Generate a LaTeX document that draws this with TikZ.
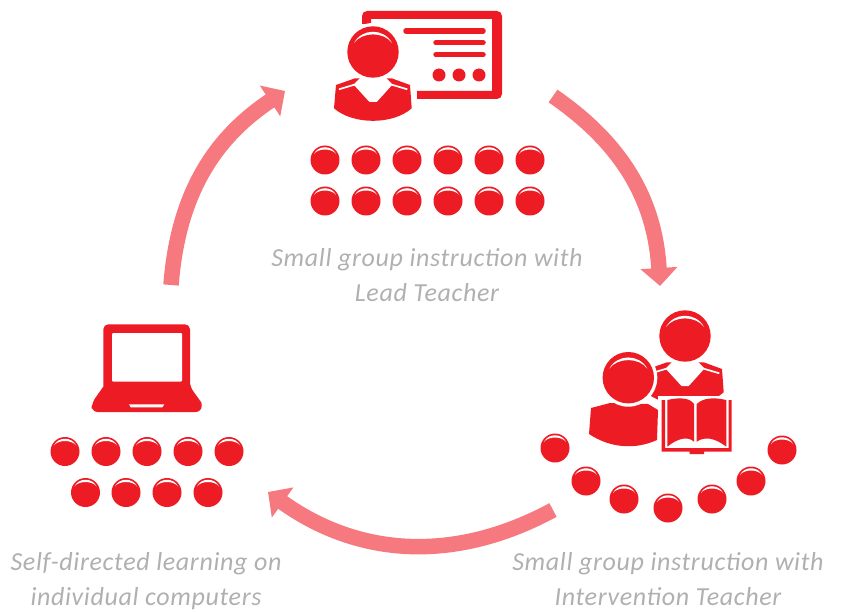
\documentclass[tikz,border=0pt]{standalone}
\usepackage{fontspec}
\setmainfont[LetterSpace=2.5]{Carlito}
\usetikzlibrary{arrows.meta}
\definecolor{iconred}{HTML}{ED1C24}
\definecolor{cyclepink}{HTML}{F6797F}
\definecolor{captiongray}{HTML}{B0B0B0}
\tikzset{
	cyclearrow/.style={draw=cyclepink, line width=15.5pt, -{Triangle[width=36pt,length=18pt,fill=cyclepink]}},
	caption/.style={text=captiongray, align=center, font=\fontsize{26}{35}\selectfont\itshape},
	pupil/.pic={
		\fill[iconred] (0,0) circle (14.5);
		\fill[white] (-11,-6) .. controls (-7,-15) and (7,-15) .. (11,-6) .. controls (7,-12) and (-7,-12) .. cycle;
	},
	torso/.pic={
		\fill[iconred] (-39,56.3) -- (-37,33) -- (-18,26.3) -- (18.7,26.3) -- (37,33) -- (38.7,56.3) .. controls (20,73) and (-20,73) .. cycle;
		\draw[white, line width=1.7pt] (-34,37.3) -- (-18.7,32.7);
		\draw[white, line width=1.7pt] (18.7,32.7) -- (34.3,37.3);
		\fill[white] (-12,25) -- (-19.5,32.5) -- (-3.5,50) -- (3.7,50) -- (19.5,32.5) -- (12,25) -- cycle;
	},
	head/.pic={
		\fill[white] (0,0) circle (29);
		\fill[iconred] (0,0) circle (25.7);
		\fill[white] (-19,-9) .. controls (-11,-24) and (11,-24) .. (19,-9) .. controls (11,-20.5) and (-11,-20.5) .. cycle;
	}
}
\begin{document}
\begin{tikzpicture}[x=1pt, y=-1pt]
	\useasboundingbox (0, 0) rectangle (842, 612);

	% cycle
	\coordinate (lead start) at (553, 96);
	\coordinate (lead end) at (660, 286);
	\coordinate (intervention start) at (553, 510);
	\coordinate (intervention end) at (268, 492);
	\coordinate (self start) at (171, 285);
	\coordinate (self end) at (285, 91);
	\draw[cyclearrow] (lead start) to[bend left=26] (lead end);
	\draw[cyclearrow] (intervention start) to[bend left=32] (intervention end);
	\draw[cyclearrow] (self start) to[bend left=26] (self end);

	% lead teacher
	\fill[iconred, even odd rule] (362, 24) [rounded corners=5] -- (362, 11) -- (502, 11) -- (502, 99) [sharp corners] -- (417, 99) -- (417, 91) -- (492, 91) -- (492, 19) -- (371, 19) -- (371, 24) -- cycle;
	\draw[iconred, line width=5.5pt, line cap=round] (406, 31) -- (483, 31);
	\draw[iconred, line width=5.5pt, line cap=round] (436, 42.7) -- (483, 42.7);
	\draw[iconred, line width=5.5pt, line cap=round] (436, 54.7) -- (483, 54.7);
	\fill[iconred] (439, 75) circle (6.5);
	\fill[iconred] (459, 75) circle (6.5);
	\fill[iconred] (479, 75) circle (6.5);
	\pic at (373, 52) {torso};
	\pic at (373, 52) {head};
	\pic at (325, 160) {pupil};
	\pic at (366, 160) {pupil};
	\pic at (407, 160) {pupil};
	\pic at (448, 160) {pupil};
	\pic at (489, 160) {pupil};
	\pic at (530, 160) {pupil};
	\pic at (325, 201) {pupil};
	\pic at (366, 201) {pupil};
	\pic at (407, 201) {pupil};
	\pic at (448, 201) {pupil};
	\pic at (489, 201) {pupil};
	\pic at (530, 201) {pupil};
	\node[caption] (lead caption) at (427, 275.5) {Small group instruction with\\Lead Teacher};

	% intervention teacher
	\pic at (685, 336) {torso};
	\pic at (685, 336) {head};
	\fill[iconred] (591, 408) -- (610, 403) -- (648, 404) -- (658, 410) -- (657, 440) .. controls (635, 450) and (610, 448) .. (589, 434) -- cycle;
	\pic at (628.3, 377.7) {head};
	\fill[white] (658, 396) rectangle (736, 456);
	\fill[iconred] (661.7, 400) -- (665, 400) -- (665, 448) -- (728.5, 448) -- (728.5, 400) -- (731.7, 400) -- (731.7, 451.7) -- (704, 451.7) -- (704, 454) -- (689.5, 454) -- (689.5, 451.7) -- (661.7, 451.7) -- cycle;
	\fill[iconred] (667.3, 400) .. controls (680, 397) and (690, 398) .. (694, 404) -- (694, 441.7) .. controls (688, 436) and (678, 438) .. (667.3, 446.7) -- cycle;
	\fill[iconred] (726.3, 400) .. controls (713, 397) and (703, 398) .. (696.7, 404) -- (696.7, 441.7) .. controls (705, 436) and (715, 438) .. (726.3, 446.7) -- cycle;
	\pic at (555, 448) {pupil};
	\pic at (586, 481) {pupil};
	\pic at (624, 499) {pupil};
	\pic at (668, 508) {pupil};
	\pic at (712, 499) {pupil};
	\pic at (751, 481) {pupil};
	\pic at (782, 450) {pupil};
	\node[caption] (intervention caption) at (668, 579.5) {Small group instruction with\\Intervention Teacher};

	% self-directed
	\fill[iconred, rounded corners=5] (103.3, 386.7) -- (103.3, 324.3) -- (190, 324.3) -- (190, 386.7) [rounded corners=1] -- (201.7, 403) [rounded corners=6] -- (201.7, 412) -- (91.7, 412) -- (91.7, 403) [sharp corners] -- cycle;
	\fill[white, rounded corners=1] (112, 333) rectangle (182, 381.7);
	\fill[white] (129, 404.3) -- (164.3, 404.3) -- (162.3, 407.3) -- (130.7, 407.3) -- cycle;
	\pic at (65, 451.5) {pupil};
	\pic at (106, 451.5) {pupil};
	\pic at (147, 451.5) {pupil};
	\pic at (188, 451.5) {pupil};
	\pic at (229, 451.5) {pupil};
	\pic at (85.5, 492.5) {pupil};
	\pic at (126, 492.5) {pupil};
	\pic at (167, 492.5) {pupil};
	\pic at (208, 492.5) {pupil};
	\node[caption] (self caption) at (146, 581.5) {Self-directed learning on\\individual computers};
\end{tikzpicture}
\end{document}
